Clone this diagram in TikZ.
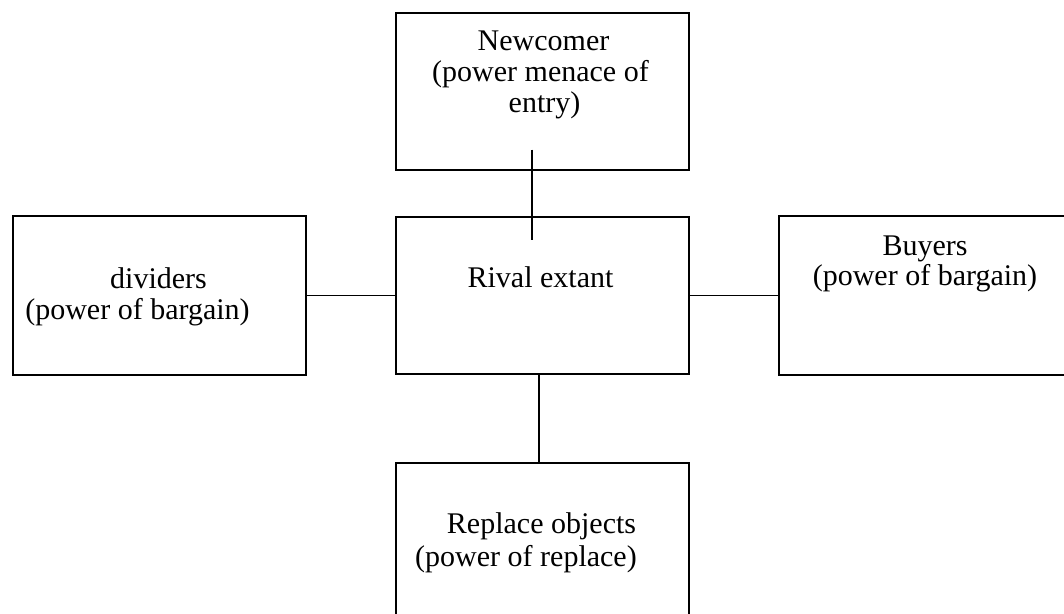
\documentclass[tikz,border=0pt]{standalone}
\usepackage{fontspec}
\setmainfont{Liberation Serif}
\begin{document}
\begin{tikzpicture}[x=1pt,y=-1pt,
  box/.style={draw=black,line width=1.5pt,rectangle,inner sep=0pt,anchor=north west},
  lbl/.style={anchor=base,inner sep=0pt,font=\fontsize{30}{31}\selectfont},
  conn/.style={draw=black,line width=1.5pt}]
\useasboundingbox (0,0) rectangle (1064,613);
\clip (0,0) rectangle (1064,613);
% boxes
\node[box,minimum width=293pt,minimum height=157pt] (new) at (395,12) {};
\node[box,minimum width=293pt,minimum height=157pt] (rival) at (395,216) {};
\node[box,minimum width=293pt,minimum height=159pt] (div) at (12,215) {};
\node[box,minimum width=300pt,minimum height=159pt] (buy) at (778,215) {};
\node[box,minimum width=293pt,minimum height=190pt] (rep) at (395,462) {};
% texts
\node[lbl] (t1a) at (543.5,50) {Newcomer};
\node[lbl] (t1b) at (540.5,81) {(power menace of};
\node[lbl] (t1c) at (544.5,112) {entry)};
\node[lbl] (t2) at (540.5,287) {Rival extant};
\node[lbl] (t3a) at (158.5,288) {dividers};
\node[lbl] (t3b) at (137.5,319) {(power of bargain)};
\node[lbl] (t4a) at (925,255) {Buyers};
\node[lbl] (t4b) at (925,285) {(power of bargain)};
\node[lbl] (t5a) at (541.5,533) {Replace objects};
\node[lbl] (t5b) at (526,566) {(power of replace)};
% connectors
\coordinate (ta) at ([xshift=-10.5pt,yshift=21pt]new.south);
\coordinate (tb) at ([xshift=-10.5pt,yshift=-24pt]rival.north);
\draw[conn] (ta) -- (tb);
\draw[conn] (div.east) -- (rival.west |- div.east);
\draw[conn] (rival.east) -- (buy.west |- rival.east);
\coordinate (ba) at ([xshift=-3.5pt]rival.south);
\draw[conn] (ba) -- (ba |- rep.north);
\end{tikzpicture}
\end{document}
